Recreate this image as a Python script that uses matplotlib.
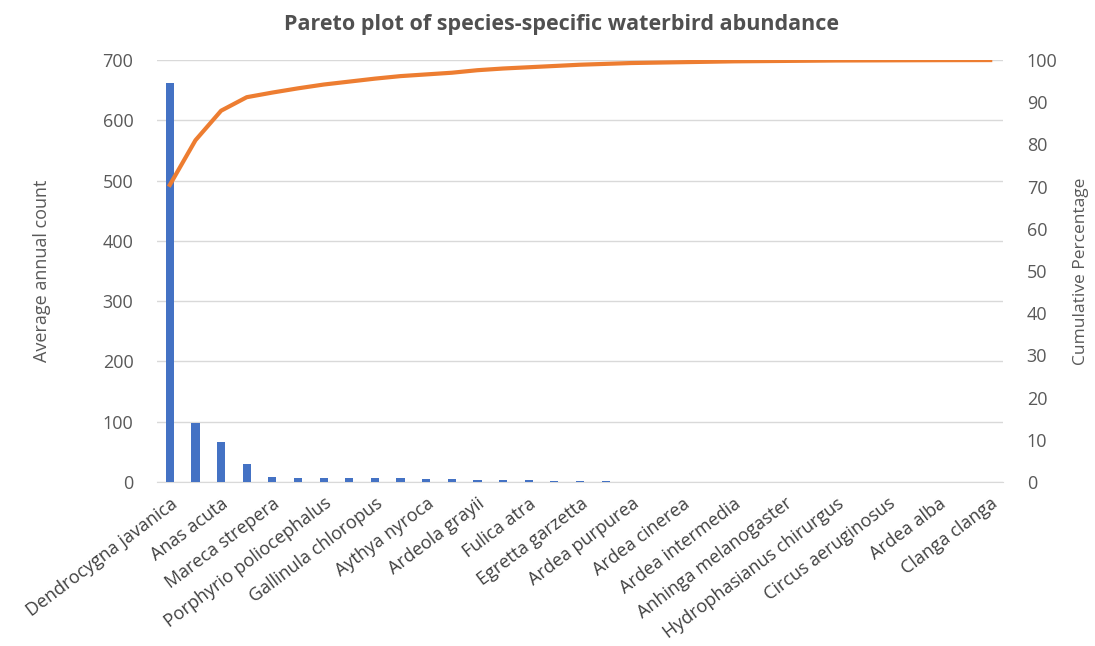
import numpy as np
import matplotlib
matplotlib.use("Agg")
from matplotlib import pyplot as plt

# species shown on the x axis (every second category is labelled)
labels = ["Dendrocygna javanica", "Anas acuta", "Mareca strepera",
          "Porphyrio poliocephalus", "Gallinula chloropus", "Aythya nyroca",
          "Ardeola grayii", "Fulica atra", "Egretta garzetta", "Ardea purpurea",
          "Ardea cinerea", "Ardea intermedia", "Anhinga melanogaster",
          "Hydrophasianus chirurgus", "Circus aeruginosus", "Ardea alba",
          "Clanga clanga"]

# average annual count per species (33 species, sorted)
counts = [662, 98, 66, 29, 8, 7, 7, 6, 6, 6, 5, 5, 3, 3, 3, 2, 2, 2,
          0.6, 0.5, 0.5, 0.4, 0.4, 0.3, 0.3, 0.3, 0.2, 0.2, 0.2, 0.2, 0.1, 0.1, 0.1]

# cumulative percentage
cum_pct = [70.4, 81.0, 88.0, 91.2, 92.3, 93.3, 94.2, 94.9, 95.6, 96.2, 96.6,
           97.0, 97.6, 98.0, 98.3, 98.6, 98.9, 99.1, 99.3, 99.4, 99.5, 99.6,
           99.7, 99.75, 99.8, 99.85, 99.9, 99.92, 99.94, 99.96, 99.98, 99.99, 100]

txt = "#595959"
plt.rcParams["font.family"] = ["Open Sans", "DejaVu Sans"]

fig = plt.figure(figsize=(10.95, 6.46), dpi=100)
ax = fig.add_axes([0.1434, 0.254, 0.7726, 0.653])
x = np.arange(len(counts))

ax.bar(x, counts, width=0.32, color="#4472C4", zorder=3)
ax.set_xlim(-0.5, len(counts) - 0.5)
ax.set_ylim(0, 700)
ax.set_yticks(np.arange(0, 701, 100))
ax.grid(axis="y", color="#D9D9D9", linewidth=1, zorder=0)
for s in ["top", "right", "left"]:
    ax.spines[s].set_visible(False)
ax.spines["bottom"].set_color("#D9D9D9")
ax.tick_params(axis="y", length=0, colors=txt, labelsize=13, pad=17)
ax.set_xticks(x[::2])
ax.set_xticklabels(labels, rotation=37, ha="right", rotation_mode="anchor",
                   fontsize=13, color="#404040")
ax.tick_params(axis="x", length=0, pad=9)
ax.set_ylabel("Average annual count", color=txt, fontsize=13, labelpad=37)

ax2 = ax.twinx()
ax2.plot(x, cum_pct, color="#ED7D31", linewidth=3, zorder=4)
ax2.set_ylim(0, 100)
ax2.set_yticks(np.arange(0, 101, 10))
for s in ax2.spines.values():
    s.set_visible(False)
ax2.tick_params(axis="y", length=0, colors=txt, labelsize=13, pad=17)
ax2.set_ylabel("Cumulative Percentage", color=txt, fontsize=12.5, labelpad=11)

fig.suptitle("Pareto plot of species-specific waterbird abundance", x=0.513, y=0.978,
             fontsize=15.5, fontweight="bold", color="#505050")

fig.savefig("out.png", dpi=100)
